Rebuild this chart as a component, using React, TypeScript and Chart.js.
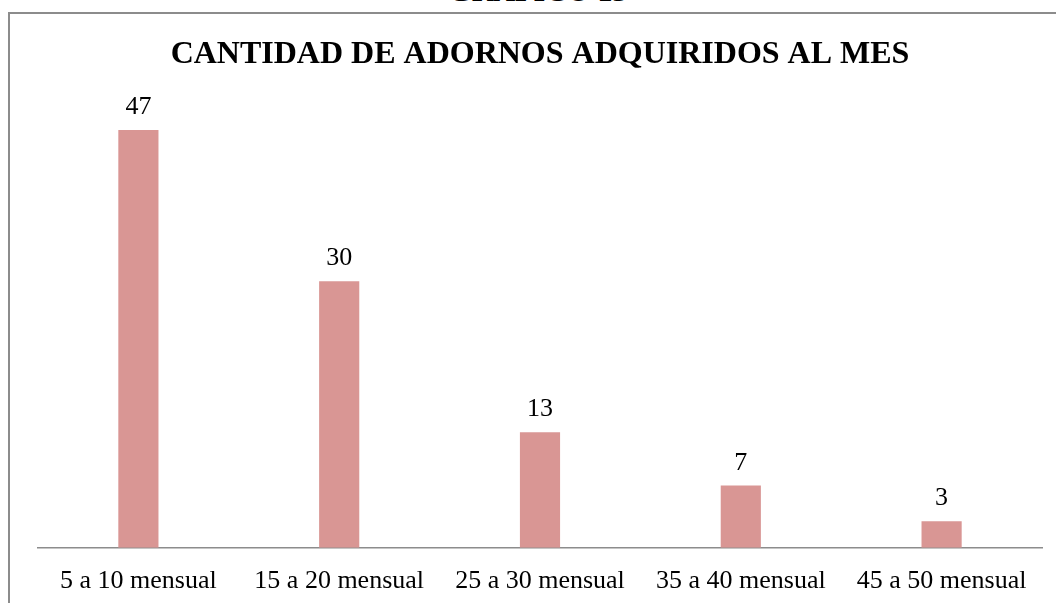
import React, { useEffect, useRef } from "react";
import { Chart, registerables } from "chart.js";

Chart.register(...registerables);

const categories = ["5 a 10 mensual", "15 a 20 mensual", "25 a 30 mensual", "35 a 40 mensual", "45 a 50 mensual"];
const values = [47, 30, 13, 7, 3];
const chartTitle = "CANTIDAD DE ADORNOS ADQUIRIDOS AL MES";
const pageHeading = "GRAFICO 13";

const FONT = "'Liberation Serif', 'Times New Roman', serif";

const dataLabelPlugin = {
  id: "dataLabels",
  afterDatasetsDraw(chart: any) {
    const ctx = chart.ctx;
    const meta = chart.getDatasetMeta(0);
    ctx.save();
    ctx.font = `26px ${FONT}`;
    ctx.fillStyle = "#000";
    ctx.textAlign = "center";
    ctx.textBaseline = "alphabetic";
    meta.data.forEach((bar: any, i: number) => {
      ctx.fillText(String(values[i]), bar.x, bar.y - 16);
    });
    ctx.restore();
  },
};

export default function App() {
  const ref = useRef<HTMLCanvasElement>(null);
  useEffect(() => {
    if (!ref.current) return;
    const chart = new Chart(ref.current, {
      type: "bar",
      data: {
        labels: categories,
        datasets: [
          {
            data: values,
            backgroundColor: "#D99694",
            barPercentage: 0.2,
            categoryPercentage: 1,
          },
        ],
      },
      options: {
        animation: false,
        responsive: false,
        layout: { padding: { left: 38, right: 14, top: 0, bottom: -12 } },
        plugins: {
          legend: { display: false },
          tooltip: { enabled: false },
          title: {
            display: true,
            text: chartTitle,
            color: "#000",
            font: { family: FONT, size: 32, weight: "bold", lineHeight: 1.2 },
            padding: { top: 36, bottom: 29 },
          },
        },
        scales: {
          y: { display: false, min: 0, max: 50 },
          x: {
            grid: { display: false, drawTicks: false },
            border: { display: true, color: "#8c8c8c", width: 1.5 },
            ticks: { color: "#000", font: { family: FONT, size: 26 }, padding: 18 },
          },
        },
      },
      plugins: [dataLabelPlugin],
    });
    return () => chart.destroy();
  }, []);

  return (
    <div style={{ position: "fixed", left: 0, top: 0, width: 1056, height: 603, overflow: "hidden", background: "#fff" }}>
      <div
        style={{
          position: "absolute",
          top: -24,
          left: 0,
          width: 1076,
          textAlign: "center",
          fontFamily: FONT,
          fontWeight: "bold",
          fontSize: 30,
          lineHeight: "30px",
        }}
      >
        {pageHeading}
      </div>
      <div
        style={{
          position: "absolute",
          left: 8,
          top: 12,
          width: 1100,
          height: 700,
          border: "2px solid #8c8c8c",
          boxSizing: "border-box",
        }}
      />
      <canvas ref={ref} width={1056} height={603} style={{ position: "absolute", left: 0, top: 0 }} />
    </div>
  );
}
